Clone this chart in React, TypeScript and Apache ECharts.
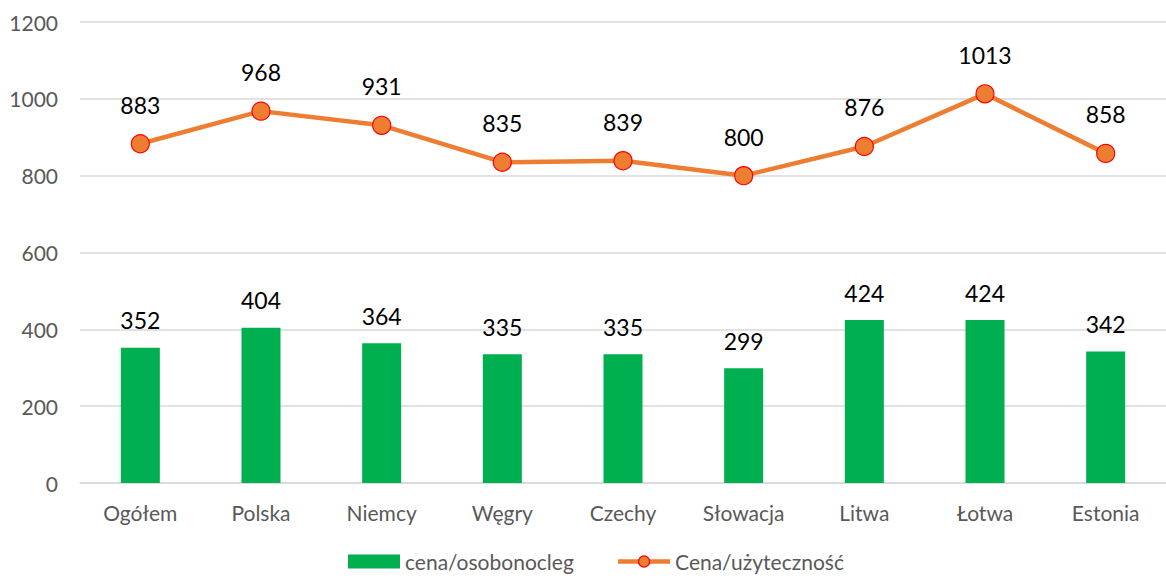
import React, { useEffect, useRef } from "react";
import * as echarts from "echarts";

const categories = ["Ogółem", "Polska", "Niemcy", "Węgry", "Czechy", "Słowacja", "Litwa", "Łotwa", "Estonia"];
const barValues = [352, 404, 364, 335, 335, 299, 424, 424, 342];
const lineValues = [883, 968, 931, 835, 839, 800, 876, 1013, 858];
const barName = "cena/osobonocleg";
const lineName = "Cena/użyteczność";
const yTicks = { min: 0, max: 1200, interval: 200 };

const FONT = "Lato, 'Noto Sans', sans-serif";

export default function App() {
  const ref = useRef<HTMLDivElement>(null);
  useEffect(() => {
    if (!ref.current) return;
    const chart = echarts.init(ref.current, null, { renderer: "svg" });
    chart.setOption({
      animation: false,
      backgroundColor: "#ffffff",
      textStyle: { fontFamily: FONT },
      grid: { left: 80, top: 22, width: 1093, height: 461, containLabel: false },
      legend: {
        bottom: 2,
        left: 343,
        itemGap: 42,
        itemWidth: 52,
        itemHeight: 14,
        textStyle: { fontSize: 21, color: "#595959", fontFamily: FONT },
        data: [
          { name: barName, icon: "rect" },
          {
            name: lineName,
            lineStyle: { width: 4.5, color: "#ED7D31" },
            itemStyle: { color: "#ED7D31", borderColor: "#FF0000", borderWidth: 1.2 },
          },
        ],
      },
      xAxis: {
        type: "category",
        data: categories,
        axisTick: { show: false },
        axisLine: { lineStyle: { color: "#d9d9d9", width: 1.5 } },
        axisLabel: { fontSize: 21, color: "#595959", margin: 19, fontFamily: FONT },
      },
      yAxis: {
        type: "value",
        min: yTicks.min,
        max: yTicks.max,
        interval: yTicks.interval,
        axisLabel: {
          fontSize: 21,
          color: "#595959",
          margin: 22,
          fontFamily: FONT,
          formatter: (v: number) => String(v),
        },
        splitLine: { lineStyle: { color: "#d9d9d9", width: 1.5 } },
        axisLine: { show: false },
        axisTick: { show: false },
      },
      series: [
        {
          name: barName,
          type: "bar",
          data: barValues,
          barWidth: 39,
          itemStyle: { color: "#00B050" },
          label: { show: true, position: "top", distance: 16, fontSize: 23, color: "#000000", fontFamily: FONT },
        },
        {
          name: lineName,
          type: "line",
          data: lineValues,
          symbol: "circle",
          symbolSize: 18,
          lineStyle: { color: "#ED7D31", width: 4.5 },
          itemStyle: { color: "#ED7D31", borderColor: "#FF0000", borderWidth: 1.2 },
          label: { show: true, position: "top", distance: 18, fontSize: 23, color: "#000000", fontFamily: FONT },
        },
      ],
    });
    return () => chart.dispose();
  }, []);
  return (
    <div
      ref={ref}
      style={{ position: "fixed", left: 0, top: 0, width: 1166, height: 579, background: "#fff" }}
    />
  );
}
